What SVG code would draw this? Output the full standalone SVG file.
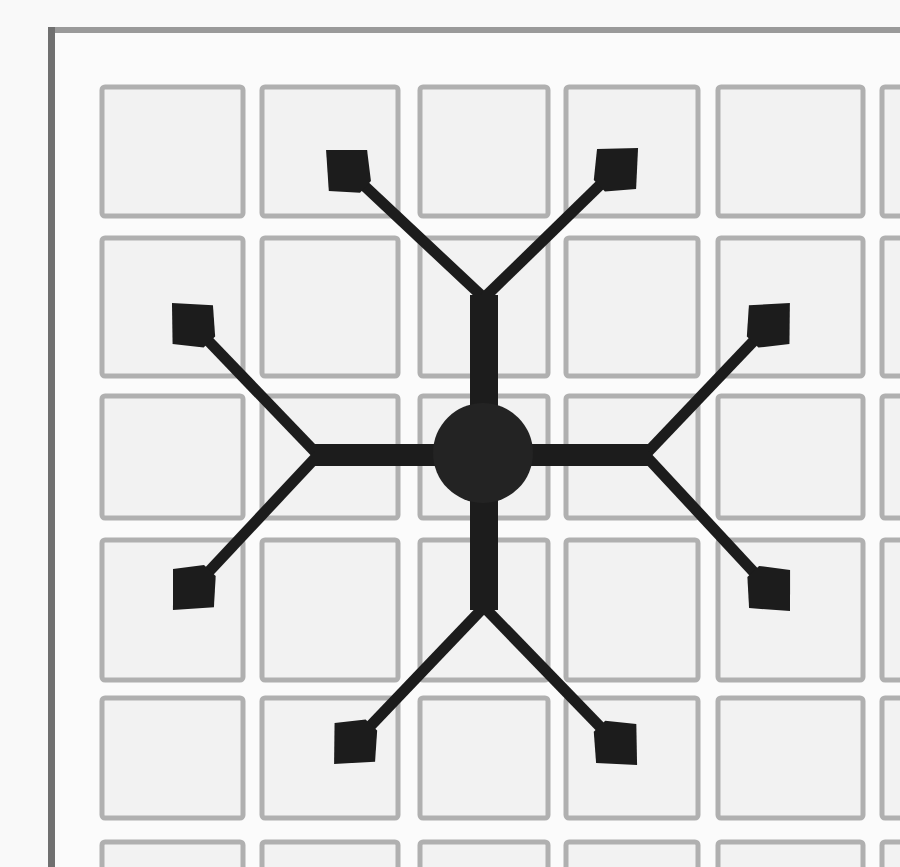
<svg xmlns="http://www.w3.org/2000/svg" width="900" height="867" viewBox="0 0 900 867">
  <defs>
    <style>
      .tile { fill: #f2f2f2; stroke: #b0b0b0; stroke-width: 5; }
      .arm { fill: #1c1c1c; }
      .branch { stroke: #1c1c1c; stroke-width: 11; fill: none; marker-end: url(#head); }
    </style>
    <marker id="head" markerUnits="userSpaceOnUse" markerWidth="64" markerHeight="70" refX="0" refY="0" viewBox="-6 -35 64 70" orient="auto">
      <path d="M52,0 L22,-28 L-2,-8 L-2,8 L22,28 Z" fill="#1c1c1c"/>
    </marker>
    <clipPath id="frameClip">
      <rect x="55" y="33" width="845" height="834"/>
    </clipPath>
  </defs>

  <rect x="0" y="0" width="900" height="867" fill="#f9f9f9"/>

  <g id="grid" clip-path="url(#frameClip)">
    <rect x="55" y="33" width="845" height="834" fill="#fbfbfb"/>
    <g id="tiles">
      <rect class="tile" x="102" y="87" width="141" height="129" rx="3"/>
      <rect class="tile" x="262" y="87" width="136" height="129" rx="3"/>
      <rect class="tile" x="420" y="87" width="128" height="129" rx="3"/>
      <rect class="tile" x="566" y="87" width="132" height="129" rx="3"/>
      <rect class="tile" x="718" y="87" width="145" height="129" rx="3"/>
      <rect class="tile" x="882" y="87" width="80" height="129" rx="3"/>

      <rect class="tile" x="102" y="238" width="141" height="138" rx="3"/>
      <rect class="tile" x="262" y="238" width="136" height="138" rx="3"/>
      <rect class="tile" x="420" y="238" width="128" height="138" rx="3"/>
      <rect class="tile" x="566" y="238" width="132" height="138" rx="3"/>
      <rect class="tile" x="718" y="238" width="145" height="138" rx="3"/>
      <rect class="tile" x="882" y="238" width="80" height="138" rx="3"/>

      <rect class="tile" x="102" y="396" width="141" height="122" rx="3"/>
      <rect class="tile" x="262" y="396" width="136" height="122" rx="3"/>
      <rect class="tile" x="420" y="396" width="128" height="122" rx="3"/>
      <rect class="tile" x="566" y="396" width="132" height="122" rx="3"/>
      <rect class="tile" x="718" y="396" width="145" height="122" rx="3"/>
      <rect class="tile" x="882" y="396" width="80" height="122" rx="3"/>

      <rect class="tile" x="102" y="540" width="141" height="140" rx="3"/>
      <rect class="tile" x="262" y="540" width="136" height="140" rx="3"/>
      <rect class="tile" x="420" y="540" width="128" height="140" rx="3"/>
      <rect class="tile" x="566" y="540" width="132" height="140" rx="3"/>
      <rect class="tile" x="718" y="540" width="145" height="140" rx="3"/>
      <rect class="tile" x="882" y="540" width="80" height="140" rx="3"/>

      <rect class="tile" x="102" y="698" width="141" height="120" rx="3"/>
      <rect class="tile" x="262" y="698" width="136" height="120" rx="3"/>
      <rect class="tile" x="420" y="698" width="128" height="120" rx="3"/>
      <rect class="tile" x="566" y="698" width="132" height="120" rx="3"/>
      <rect class="tile" x="718" y="698" width="145" height="120" rx="3"/>
      <rect class="tile" x="882" y="698" width="80" height="120" rx="3"/>

      <rect class="tile" x="102" y="842" width="141" height="80" rx="3"/>
      <rect class="tile" x="262" y="842" width="136" height="80" rx="3"/>
      <rect class="tile" x="420" y="842" width="128" height="80" rx="3"/>
      <rect class="tile" x="566" y="842" width="132" height="80" rx="3"/>
      <rect class="tile" x="718" y="842" width="145" height="80" rx="3"/>
      <rect class="tile" x="882" y="842" width="80" height="80" rx="3"/>
    </g>
  </g>

  <g id="frame">
    <rect x="49" y="27" width="851" height="6" fill="#9a9a9a"/>
    <rect x="48" y="27" width="7" height="840" fill="#707070"/>
  </g>

  <g id="connectors">
    <path class="branch" d="M484,298 L364,185.5"/>
    <path class="branch" d="M484,298 L600.8,184.3"/>
    <path class="branch" d="M318,455 L208,340.5"/>
    <path class="branch" d="M318,455 L208.5,572"/>
    <path class="branch" d="M645,455 L754,340.6"/>
    <path class="branch" d="M645,455 L754.6,572.9"/>
    <path class="branch" d="M484,607 L370,726.4"/>
    <path class="branch" d="M484,607 L600.9,727.7"/>
  </g>

  <g id="hub">
    <rect class="arm" x="470" y="295" width="28" height="315"/>
    <rect class="arm" x="315" y="444" width="333" height="22"/>
    <circle cx="483" cy="453" r="50" fill="#232323"/>
  </g>
</svg>
